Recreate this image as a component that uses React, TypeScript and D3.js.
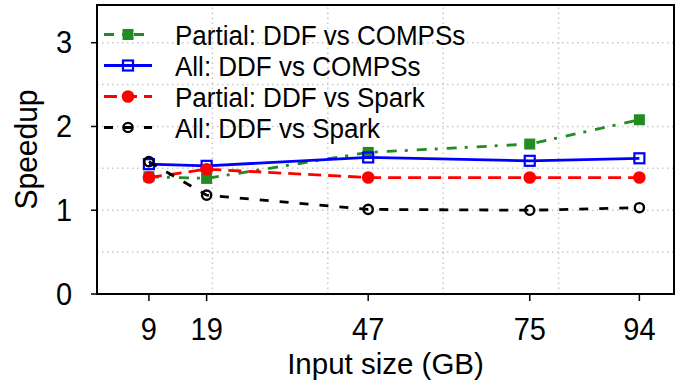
import React, { useEffect, useRef } from 'react';
import * as d3 from 'd3';

const W = 686;
const H = 382;
const MARGIN = { top: 5, right: 12, bottom: 88, left: 97 };

const inputSizes = [9, 19, 47, 75, 94];
const partialCompss = [1.4, 1.38, 1.69, 1.79, 2.08];
const allCompss = [1.55, 1.53, 1.63, 1.59, 1.62];
const partialSpark = [1.39, 1.49, 1.39, 1.39, 1.39];
const allSpark = [1.58, 1.18, 1.01, 1.0, 1.03];

const yTicks = [0, 1, 2, 3];
const yGrid = [0.5, 1, 1.5, 2, 2.5, 3];
const xGrid = [20, 40, 60, 80];

type Marker = 'filledSquare' | 'openSquare' | 'filledCircle' | 'openCircle';

const series: { name: string; values: number[]; color: string; dash: string; marker: Marker }[] = [
  { name: 'Partial: DDF vs COMPSs', values: partialCompss, color: '#228b22', dash: '10,8,3,9', marker: 'filledSquare' },
  { name: 'All: DDF vs COMPSs', values: allCompss, color: '#0000ff', dash: '', marker: 'openSquare' },
  { name: 'Partial: DDF vs Spark', values: partialSpark, color: '#ff0000', dash: '13,7', marker: 'filledCircle' },
  { name: 'All: DDF vs Spark', values: allSpark, color: '#000000', dash: '9,11', marker: 'openCircle' },
];

const FONT = '"Liberation Sans", Arial, Helvetica, sans-serif';

type G = d3.Selection<SVGGElement, unknown, null, undefined>;

// text is a bit taller than Liberation Sans in the original, so stretch it vertically
const addText = (g: G, x: number, y: number, str: string | number, size: number, anchor: string, stretch: number) =>
  g.append('text')
    .attr('transform', `translate(${x}, ${y}) scale(1, ${stretch})`)
    .attr('font-family', FONT)
    .attr('font-size', size)
    .attr('text-anchor', anchor)
    .text(str);

const drawMarker = (g: G, kind: Marker, color: string, cx: number, cy: number) => {
  if (kind === 'filledSquare') {
    g.append('rect').attr('x', cx - 5.5).attr('y', cy - 5.5).attr('width', 11).attr('height', 11).attr('fill', color);
  } else if (kind === 'openSquare') {
    g.append('rect').attr('x', cx - 5).attr('y', cy - 5).attr('width', 10).attr('height', 10)
      .attr('fill', 'none').attr('stroke', color).attr('stroke-width', 2.2);
  } else if (kind === 'filledCircle') {
    g.append('circle').attr('cx', cx).attr('cy', cy).attr('r', 6.3).attr('fill', color);
  } else {
    g.append('circle').attr('cx', cx).attr('cy', cy).attr('r', 4.6)
      .attr('fill', 'none').attr('stroke', color).attr('stroke-width', 2.4);
  }
};

const App: React.FC = () => {
  const svgRef = useRef<SVGSVGElement | null>(null);

  useEffect(() => {
    if (!svgRef.current) return;
    const svg = d3.select(svgRef.current);
    svg.selectAll('*').remove();

    const x = d3.scaleLinear().domain([0, 100]).range([MARGIN.left, W - MARGIN.right]);
    const y = d3.scaleLinear().domain([0, 3.45]).range([H - MARGIN.bottom, MARGIN.top]);
    const x0 = MARGIN.left;
    const x1 = W - MARGIN.right;
    const y0 = H - MARGIN.bottom;
    const y1 = MARGIN.top;

    // grid
    const grid = svg.append('g').attr('stroke', '#c8c8c8').attr('stroke-width', 1.5).attr('stroke-dasharray', '1.5,3.5');
    yGrid.forEach(v => {
      grid.append('line').attr('x1', x0).attr('x2', x1).attr('y1', y(v)).attr('y2', y(v));
    });
    xGrid.forEach(v => {
      grid.append('line').attr('x1', x(v)).attr('x2', x(v)).attr('y1', y0).attr('y2', y1);
    });

    // series
    const line = d3.line<number>().x((_, i) => x(inputSizes[i])).y(d => y(d));
    series.forEach(s => {
      const g = svg.append('g');
      g.append('path')
        .attr('d', line(s.values))
        .attr('fill', 'none')
        .attr('stroke', s.color)
        .attr('stroke-width', 2.8)
        .attr('stroke-dasharray', s.dash || null);
      s.values.forEach((v, i) => drawMarker(g, s.marker, s.color, x(inputSizes[i]), y(v)));
    });

    // frame
    svg.append('rect')
      .attr('x', x0).attr('y', y1).attr('width', x1 - x0).attr('height', y0 - y1)
      .attr('fill', 'none').attr('stroke', '#000').attr('stroke-width', 2);

    // y axis
    const yAxis = svg.append('g');
    yTicks.forEach(t => {
      yAxis.append('line').attr('x1', x0 - 6).attr('x2', x0).attr('y1', y(t)).attr('y2', y(t))
        .attr('stroke', '#000').attr('stroke-width', 1.5);
      addText(yAxis, 72, y(t) + 10.5, t, 29, 'end', 1.08);
    });

    // x axis
    const xAxis = svg.append('g');
    inputSizes.forEach(t => {
      xAxis.append('line').attr('x1', x(t)).attr('x2', x(t)).attr('y1', y0).attr('y2', y0 + 7)
        .attr('stroke', '#000').attr('stroke-width', 1.5);
      addText(xAxis, x(t), 340, t, 29, 'middle', 1.08);
    });

    addText(svg as unknown as G, (x0 + x1) / 2, 374, 'Input size (GB)', 29.5, 'middle', 1.0);

    svg.append('text')
      .attr('transform', `translate(37, ${(y0 + y1) / 2}) rotate(-90) scale(1, 1.06)`)
      .attr('text-anchor', 'middle').attr('font-family', FONT).attr('font-size', 30)
      .text('Speedup');

    // legend
    const legend = svg.append('g');
    series.forEach((s, i) => {
      const ly = 34.5 + i * 31;
      legend.append('line')
        .attr('x1', 104).attr('x2', 152).attr('y1', ly).attr('y2', ly)
        .attr('stroke', s.color).attr('stroke-width', 2.8)
        .attr('stroke-dasharray', s.dash || null);
      drawMarker(legend, s.marker, s.color, 128, ly);
      addText(legend, 175, ly + 10, s.name, 26, 'start', 1.06);
    });
  }, []);

  return (
    <svg
      ref={svgRef}
      width={W}
      height={H}
      style={{ position: 'absolute', left: 0, top: 0, background: '#fff' }}
    />
  );
};

export default App;
